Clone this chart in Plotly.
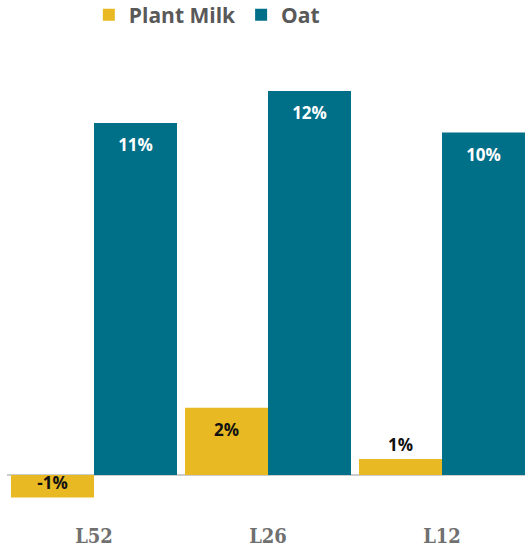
import plotly.graph_objects as go

categories = ["L52", "L26", "L12"]
plant_milk = [-0.7, 2.1, 0.5]
oat = [11.0, 12.0, 10.7]
plant_labels = ["-1%", "2%", "1%"]
oat_labels = ["11%", "12%", "10%"]

YELLOW = "#E8B922"
TEAL = "#006F88"

# small invisible first line pushes inside labels down from the bar top
PUSH = "<span style='font-size:3px'> </span><br>"

fig = go.Figure()
fig.add_trace(go.Bar(
    name="Plant Milk", x=categories, y=plant_milk,
    text=plant_labels, textposition=["inside", "inside", "outside"],
    texttemplate=["%{text}", PUSH + "%{text}", "%{text}"],
    insidetextanchor="end",
    textfont=dict(family="Open Sans", size=17, color="#111111", weight="bold"),
    marker=dict(color=YELLOW, line=dict(width=0)),
    constraintext="none", cliponaxis=False,
))
fig.add_trace(go.Bar(
    name="Oat", x=categories, y=oat,
    text=oat_labels, textposition="inside",
    texttemplate=PUSH + "%{text}",
    insidetextanchor="end",
    textfont=dict(family="Open Sans", size=17, color="white", weight="bold"),
    marker=dict(color=TEAL, line=dict(width=0)),
    constraintext="none", cliponaxis=False,
))

fig.update_layout(
    width=525, height=547,
    margin=dict(l=7, r=0, t=0, b=37, autoexpand=False),
    plot_bgcolor="white", paper_bgcolor="white",
    barmode="group", bargap=0.046, bargroupgap=0,
    showlegend=True,
    legend=dict(
        orientation="h", x=0.158, xanchor="left", y=0.9706, yanchor="middle",
        font=dict(family="Open Sans", size=21, color="#595959", weight="bold"),
        itemwidth=30, bgcolor="rgba(0,0,0,0)",
    ),
    xaxis=dict(
        range=[-0.5, 2.477], showgrid=False, showline=False, ticks="",
        tickfont=dict(family="DejaVu Serif Condensed, DejaVu Serif", size=20,
                      color="#707070", weight="bold"),
        ticklabelstandoff=12, automargin=False, fixedrange=True,
    ),
    yaxis=dict(
        range=[-1.094, 14.844], showgrid=False, showticklabels=False,
        zeroline=True, zerolinecolor="#CCCCCC", zerolinewidth=1.5,
        showline=False, ticks="", automargin=False, fixedrange=True,
    ),
)

fig.write_html(
    "out.html",
    config={"displayModeBar": False},
    post_script="document.body.style.margin='0';document.body.style.overflow='hidden';",
)
